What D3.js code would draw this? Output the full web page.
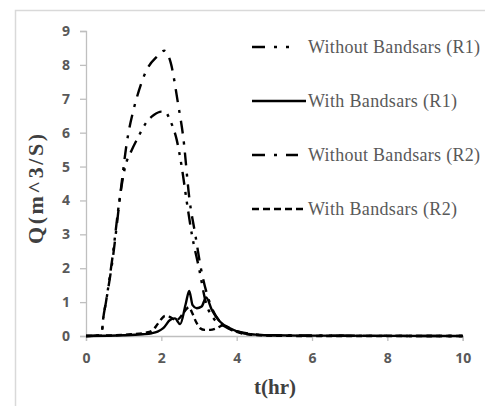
<!DOCTYPE html>
<html>
<head>
<meta charset="utf-8">
<script src="https://cdn.jsdelivr.net/npm/d3@7"></script>
<style>
  body { margin: 0; background: #fff; }
  svg { display: block; }
</style>
</head>
<body>
<div id="chart"></div>
<script>
// series data (t in hr, Q in m^3/s)
const r1WithoutT = [0, 0.35, 0.42, 0.45, 0.53, 0.7, 0.9, 1.04, 1.2, 1.4, 1.6, 1.8, 2.0, 2.1, 2.23, 2.41, 2.54, 2.67, 2.81, 3.0, 3.18, 3.4, 3.65, 4.0, 4.5, 5, 6, 10];
const r1WithoutQ = [0, 0.02, 0.1, 0.45, 1.0, 2.3, 4.1, 5.0, 5.45, 5.9, 6.3, 6.52, 6.62, 6.62, 6.37, 5.78, 5.0, 4.0, 3.0, 2.0, 1.0, 0.5, 0.3, 0.12, 0.04, 0.02, 0.01, 0];

const r1WithT = [0, 1.0, 1.5, 1.74, 1.9, 2.05, 2.23, 2.36, 2.5, 2.65, 2.74, 2.83, 2.94, 3.07, 3.19, 3.34, 3.56, 3.82, 4.18, 4.5, 5, 6, 10];
const r1WithQ = [0, 0.02, 0.05, 0.08, 0.13, 0.23, 0.47, 0.52, 0.35, 0.96, 1.33, 0.91, 0.82, 0.87, 1.14, 0.77, 0.42, 0.23, 0.08, 0.04, 0.02, 0.01, 0];

const r2WithoutT = [0, 0.35, 0.42, 0.45, 0.53, 0.7, 0.95, 1.08, 1.26, 1.34, 1.61, 1.88, 2.08, 2.25, 2.45, 2.58, 2.75, 2.9, 3.05, 3.28, 3.5, 3.7, 4.0, 4.5, 5, 6, 10];
const r2WithoutQ = [0, 0.02, 0.1, 0.45, 1.0, 2.2, 4.55, 5.68, 6.67, 7.0, 7.85, 8.24, 8.42, 8.06, 6.81, 5.88, 4.0, 3.0, 2.0, 1.0, 0.5, 0.3, 0.14, 0.05, 0.02, 0.01, 0];

const r2WithT = [0, 1.2, 1.6, 1.78, 1.9, 2.0, 2.1, 2.2, 2.4, 2.55, 2.67, 2.73, 2.82, 2.92, 3.03, 3.15, 3.3, 3.45, 3.65, 3.8, 4.0, 4.3, 5, 6, 10];
const r2WithQ = [0, 0.05, 0.1, 0.18, 0.35, 0.5, 0.59, 0.57, 0.47, 0.62, 0.8, 0.85, 0.68, 0.42, 0.23, 0.18, 0.18, 0.22, 0.32, 0.22, 0.12, 0.05, 0.01, 0, 0];

const seriesNames = ["Without Bandsars (R1)", "With Bandsars (R1)", "Without Bandsars (R2)", "With Bandsars (R2)"];
const xTicks = [0, 2, 4, 6, 8, 10];
const yTicks = [0, 1, 2, 3, 4, 5, 6, 7, 8, 9];

const width = 485, height = 406;
const margin = {left: 86, top: 31, right: 22, bottom: 70};

const svg = d3.select("#chart").append("svg")
    .attr("width", width)
    .attr("height", height);

// outer chart border
svg.append("rect")
    .attr("x", 15.5).attr("y", 10.5)
    .attr("width", 500).attr("height", 420)
    .attr("fill", "none")
    .attr("stroke", "#d9d9d9")
    .attr("stroke-width", 1.5);

const x = d3.scaleLinear().domain([0, 10]).range([margin.left, width - margin.right - 0.3]);
const y = d3.scaleLinear().domain([0, 9]).range([height - margin.bottom, margin.top]);

// axes
const yAxis = svg.append("g")
    .attr("transform", `translate(${margin.left},0)`)
    .call(d3.axisLeft(y).tickValues(yTicks).tickSize(6).tickPadding(10));
const xAxis = svg.append("g")
    .attr("transform", `translate(0,${y(0)})`)
    .call(d3.axisBottom(x).tickValues(xTicks).tickSize(5).tickPadding(12));

[xAxis, yAxis].forEach(a => {
    a.select(".domain").attr("stroke", "#bfbfbf").attr("stroke-width", 1.3);
    a.selectAll(".tick line").attr("stroke", "#bfbfbf").attr("stroke-width", 1.3);
    a.selectAll(".tick text")
        .attr("fill", "#595959")
        .style("font-family", "'Open Sans', sans-serif")
        .style("font-weight", "bold")
        .style("font-size", "14px");
});

// series lines
const styles = [
    {t: r1WithoutT, q: r1WithoutQ, dash: "13,7,3,7,3,7", legDash: "13,9,3,9,3,9", legEnd: 292},
    {t: r1WithT, q: r1WithQ, dash: null, legDash: null, legEnd: 306},
    {t: r2WithoutT, q: r2WithoutQ, dash: "13,8,3,8", legDash: "13,9,3,9", legEnd: 298},
    {t: r2WithT, q: r2WithQ, dash: "6,4", legDash: "7,4", legEnd: 306}
];

const line = d3.line()
    .x(d => x(d[0]))
    .y(d => y(d[1]))
    .curve(d3.curveMonotoneX);

styles.forEach(s => {
    svg.append("path")
        .datum(s.t.map((t, i) => [t, s.q[i]]))
        .attr("d", line)
        .attr("fill", "none")
        .attr("stroke", "#000")
        .attr("stroke-width", 2.4)
        .attr("stroke-dasharray", s.dash);
});

// legend
const legend = svg.append("g");
seriesNames.forEach((name, i) => {
    const ly = 47 + i * 54;
    legend.append("line")
        .attr("x1", 252).attr("x2", styles[i].legEnd)
        .attr("y1", ly).attr("y2", ly)
        .attr("stroke", "#000")
        .attr("stroke-width", 2.4)
        .attr("stroke-dasharray", styles[i].legDash);
    legend.append("text")
        .attr("x", 308).attr("y", ly + 6)
        .attr("fill", "#595959")
        .attr("textLength", name.startsWith("Without") ? 172 : 149)
        .attr("lengthAdjust", "spacing")
        .style("font-family", "'Liberation Serif', serif")
        .style("font-size", "18px")
        .text(name);
});

// axis titles
svg.append("text")
    .attr("x", 275).attr("y", 394)
    .attr("text-anchor", "middle")
    .attr("fill", "#404040")
    .style("font-family", "'Liberation Serif', serif")
    .style("font-weight", "bold")
    .style("font-size", "21px")
    .text("t(hr)");

svg.append("text")
    .attr("transform", "translate(43,189) rotate(-90)")
    .attr("text-anchor", "middle")
    .attr("fill", "#404040")
    .attr("textLength", 110)
    .attr("lengthAdjust", "spacing")
    .style("font-family", "'Liberation Serif', serif")
    .style("font-weight", "bold")
    .style("font-size", "22px")
    .text("Q(m^3/S)");
</script>
</body>
</html>
